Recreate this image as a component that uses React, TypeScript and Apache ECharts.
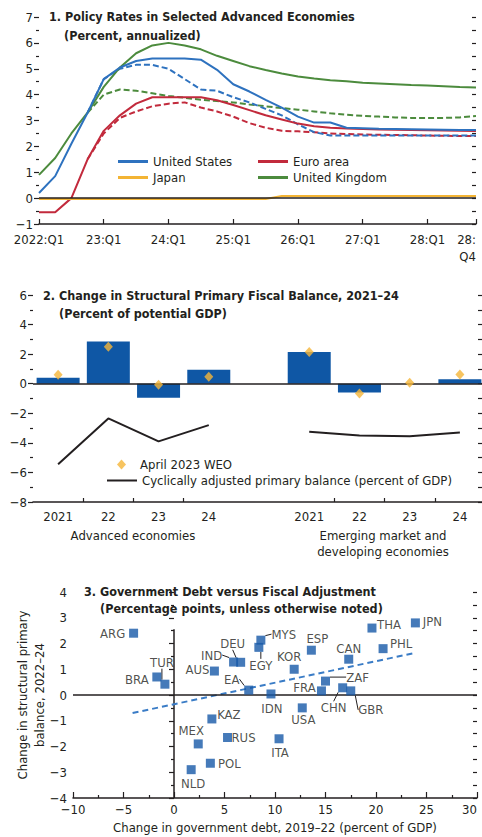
import React, { useEffect, useRef } from "react";
import * as echarts from "echarts";

// ---------- Panel 1: policy rates ----------
const quarters = [
  "2022:Q1", "22:Q2", "22:Q3", "22:Q4",
  "23:Q1", "23:Q2", "23:Q3", "23:Q4",
  "24:Q1", "24:Q2", "24:Q3", "24:Q4",
  "25:Q1", "25:Q2", "25:Q3", "25:Q4",
  "26:Q1", "26:Q2", "26:Q3", "26:Q4",
  "27:Q1", "27:Q2", "27:Q3", "27:Q4",
  "28:Q1", "28:Q2", "28:Q3", "28:Q4",
];
const usRate = [0.2, 0.85, 2.1, 3.3, 4.6, 5.05, 5.3, 5.4, 5.4, 5.4, 5.35, 4.96, 4.4, 4.12, 3.8, 3.5, 3.15, 2.92, 2.92, 2.72, 2.7, 2.68, 2.67, 2.66, 2.65, 2.64, 2.63, 2.63];
const usRateDashed = [null, null, null, 3.3, 4.6, 5.0, 5.15, 5.15, 5.0, 4.6, 4.2, 4.15, 3.9, 3.7, 3.45, 3.2, 2.85, 2.55, 2.42, 2.42, 2.42, 2.42, 2.42, 2.42, 2.42, 2.42, 2.42, 2.42];
const euroRate = [-0.55, -0.55, 0.0, 1.5, 2.6, 3.2, 3.65, 3.9, 3.9, 3.9, 3.9, 3.78, 3.6, 3.4, 3.2, 3.04, 2.88, 2.78, 2.72, 2.69, 2.67, 2.65, 2.64, 2.63, 2.62, 2.61, 2.6, 2.59];
const euroRateDashed = [null, null, null, 1.5, 2.5, 3.1, 3.35, 3.55, 3.65, 3.7, 3.5, 3.35, 3.15, 2.9, 2.72, 2.6, 2.58, 2.55, 2.5, 2.48, 2.46, 2.45, 2.44, 2.43, 2.42, 2.41, 2.4, 2.4];
const japanRate = [-0.03, -0.03, -0.03, -0.03, -0.03, -0.03, -0.03, -0.03, -0.03, -0.03, -0.03, -0.03, -0.03, -0.03, -0.03, 0.08, 0.08, 0.08, 0.08, 0.08, 0.08, 0.08, 0.08, 0.08, 0.08, 0.08, 0.08, 0.08];
const ukRate = [0.9, 1.55, 2.5, 3.3, 4.3, 5.05, 5.6, 5.9, 6.0, 5.9, 5.75, 5.5, 5.3, 5.1, 4.95, 4.82, 4.7, 4.62, 4.56, 4.52, 4.46, 4.43, 4.4, 4.37, 4.35, 4.32, 4.29, 4.28];
const ukRateDashed = [null, null, null, 3.3, 4.0, 4.2, 4.15, 4.05, 3.95, 3.88, 3.8, 3.75, 3.7, 3.62, 3.55, 3.48, 3.42, 3.35, 3.28, 3.22, 3.18, 3.15, 3.12, 3.1, 3.1, 3.1, 3.12, 3.17];

// ---------- Panel 2: structural primary balance ----------
const fiscalCategories = ["2021", "22", "23", "24", "", "2021", "22", "23", "24"];
const structuralChange = [0.4, 2.85, -0.95, 0.95, null, 2.15, -0.6, 0, 0.3];
const april2023WEO = [0.6, 2.5, -0.07, 0.47, null, 2.15, -0.67, 0.07, 0.63];
const cyclicallyAdjusted = [-5.45, -2.35, -3.9, -2.8, null, -3.25, -3.5, -3.55, -3.3];

// ---------- Panel 3: debt vs adjustment ----------
const countries = ["ARG", "TUR", "BRA", "AUS", "IND", "DEU", "EGY", "MYS", "EA", "KOR", "ESP", "IDN", "USA", "FRA", "CAN", "ZAF", "CHN", "GBR", "THA", "JPN", "PHL", "KAZ", "MEX", "RUS", "ITA", "POL", "NLD"];
const debtChange = [-4.0, -0.9, -1.7, 4.0, 5.9, 6.6, 8.4, 8.6, 7.4, 11.9, 13.6, 9.6, 12.7, 14.6, 17.3, 15.0, 16.7, 17.5, 19.6, 23.9, 20.7, 3.75, 2.4, 5.3, 10.4, 3.6, 1.7];
const balanceChange = [2.4, 0.42, 0.7, 0.93, 1.28, 1.27, 1.85, 2.13, 0.19, 1.0, 1.74, 0.04, -0.5, 0.16, 1.39, 0.54, 0.28, 0.16, 2.6, 2.8, 1.8, -0.93, -1.9, -1.65, -1.7, -2.65, -2.9];
const trendLine = [[-4.1, -0.7], [23.8, 1.63]];
const zeroDebtLine = [[0, -4], [0, 2.55]];

// label placement (layout only)
const labelOffsets: Record<string, [number, number]> = {
  ARG: [-21, 0], TUR: [-3, -22], BRA: [-20, 3], AUS: [-17, -2], IND: [-22, -7],
  DEU: [-8, -19], EGY: [2, 18], MYS: [23, -6], EA: [-17, -11], KOR: [-5, -13],
  ESP: [6, -12], IDN: [1, 15], USA: [1, 12], FRA: [-17, -3], CAN: [0, -11],
  ZAF: [32, -4], CHN: [-9, 20], GBR: [20, 19], THA: [17, -4], JPN: [17, -1],
  PHL: [18, -5], KAZ: [17, -4], MEX: [-7, -13], RUS: [16, 0], ITA: [1, 14],
  POL: [19, 0], NLD: [2, 14],
};
const leaderLabels = ["TUR", "IND", "DEU", "EGY", "MYS", "EA", "ZAF", "CHN", "GBR"];

const INK = "#231f20";
const FONT = "'Liberation Sans Narrow', 'Arial Narrow', 'DejaVu Sans Condensed', 'Roboto Condensed', sans-serif";
const FS = 13;
const US_BLUE = "#2e72bf";
const EURO_RED = "#c22a3c";
const JAPAN_YELLOW = "#f3b434";
const UK_GREEN = "#4c8b3d";
const BAR_BLUE = "#0f57a5";
const DIAMOND = "#f5b538";
const SCATTER_BLUE = "#1659a8";
const TREND_BLUE = "#3a7cc6";

const minus = (v: number) => (v < 0 ? "\u2212" + Math.abs(v) : String(v));

const G1 = { left: 39, top: 17, width: 437, height: 207 };
const G2 = { left: 33, top: 295, width: 452, height: 207 };
const G3 = { left: 73, top: 592, width: 404, height: 206 };

function leftAxis(gridIndex: number, min: number, max: number, interval: number, extra: any = {}) {
  return {
    type: "value", gridIndex, min, max, interval,
    axisLine: { show: false },
    splitLine: { show: false },
    axisTick: { show: true, inside: false, length: 5, lineStyle: { color: INK, width: 1.2 } },
    minorTick: { show: true, splitNumber: 2, length: 3, lineStyle: { color: INK, width: 1.2 } },
    axisLabel: { formatter: minus, color: INK, fontSize: FS, margin: 6, fontFamily: FONT },
    ...extra,
  };
}
function rightAxis(gridIndex: number, min: number, max: number, interval: number, len = 4) {
  return {
    type: "value", gridIndex, position: "right", min, max, interval,
    axisLine: { show: false },
    splitLine: { show: false },
    axisLabel: { show: false },
    axisTick: { show: true, inside: true, length: len, lineStyle: { color: INK, width: 1.2 } },
    minorTick: { show: true, splitNumber: 2, length: len, lineStyle: { color: INK, width: 1.2 } },
  };
}

function lineSeries(name: string, data: any[], color: string, dashed = false, extra: any = {}) {
  return {
    type: "line", name, data, xAxisIndex: 0, yAxisIndex: 0,
    color, itemStyle: { color },
    symbol: "none", showSymbol: false, connectNulls: false,
    lineStyle: { color, width: 2, type: dashed ? [6, 3] : "solid" },
    z: dashed ? 3 : 4,
    ...extra,
  };
}

const legendBase = {
  padding: 0, selectedMode: false, icon: "rect", itemWidth: 30, itemHeight: 3,
  textStyle: { color: INK, fontSize: FS, fontFamily: FONT },
};

const titleStyle = { color: INK, fontSize: 12.5, fontWeight: "bold", fontFamily: FONT, lineHeight: 17 };

const option: any = {
  animation: false,
  backgroundColor: "#ffffff",
  textStyle: { fontFamily: FONT, color: INK },
  title: [
    { text: "1. Policy Rates in Selected Advanced Economies", left: 49, top: 8, padding: 0, textStyle: titleStyle },
    { text: "(Percent, annualized)", left: 64, top: 27, padding: 0, textStyle: titleStyle },
    { text: "2. Change in Structural Primary Fiscal Balance, 2021\u201324", left: 43, top: 287, padding: 0, textStyle: titleStyle },
    { text: "(Percent of potential GDP)", left: 59, top: 305, padding: 0, textStyle: titleStyle },
    { text: "3. Government Debt versus Fiscal Adjustment", left: 84, top: 583, padding: 0, textStyle: titleStyle },
    { text: "(Percentage points, unless otherwise noted)", left: 100, top: 600, padding: 0, textStyle: titleStyle },
  ],
  legend: [
    { ...legendBase, data: ["United States"], left: 118, top: 155 },
    { ...legendBase, data: ["Euro area"], left: 258, top: 155 },
    { ...legendBase, data: ["Japan"], left: 118, top: 171 },
    { ...legendBase, data: ["United Kingdom"], left: 258, top: 171 },
    {
      ...legendBase, data: [{ name: "April 2023 WEO", icon: "diamond" }], left: 117, top: 458,
      itemWidth: 9, itemHeight: 10,
      textStyle: { ...legendBase.textStyle, padding: [0, 0, 0, 9] },
    },
    { ...legendBase, data: ["Cyclically adjusted primary balance (percent of GDP)"], left: 107, top: 474, itemHeight: 2 },
  ],
  grid: [
    { ...G1, containLabel: false, outerBoundsMode: "none" },
    { ...G2, containLabel: false, outerBoundsMode: "none" },
    { ...G3, containLabel: false, outerBoundsMode: "none" },
  ],
  xAxis: [
    {
      type: "category", gridIndex: 0, data: quarters, boundaryGap: false,
      axisLine: { show: true, onZero: false, lineStyle: { color: INK, width: 1.5 } },
      axisTick: { show: true, inside: true, length: 5, interval: (i: number) => i % 4 === 0 || i === quarters.length - 1, lineStyle: { color: INK, width: 1.2 } },
      axisLabel: {
        interval: 0, color: INK, fontSize: FS, margin: 7, lineHeight: 17, fontFamily: FONT,
        alignMaxLabel: "right",
        formatter: (v: string, i: number) => (i % 4 === 0 ? v : i === quarters.length - 1 ? v.replace(":", ":\n") : ""),
      },
      splitLine: { show: false },
    },
    {
      type: "category", gridIndex: 1, data: fiscalCategories, boundaryGap: true,
      axisLine: { show: true, onZero: false, lineStyle: { color: INK, width: 1.5 } },
      axisTick: { show: true, inside: true, length: 4, interval: (i: number) => [1, 2, 3, 6, 7, 8].includes(i), lineStyle: { color: INK, width: 1.2 } },
      axisLabel: { interval: 0, color: INK, fontSize: FS, margin: 8, fontFamily: FONT },
      splitLine: { show: false },
    },
    {
      type: "value", gridIndex: 2, min: -10, max: 30, interval: 5,
      axisLine: { show: true, onZero: false, lineStyle: { color: INK, width: 1.5 } },
      axisTick: { show: true, inside: true, length: 6, lineStyle: { color: INK, width: 1.2 } },
      minorTick: { show: true, splitNumber: 2, length: 3, lineStyle: { color: INK, width: 1.2 } },
      axisLabel: { formatter: minus, color: INK, fontSize: FS, margin: 5, fontFamily: FONT, alignMaxLabel: "right" },
      splitLine: { show: false },
      name: "Change in government debt, 2019\u201322 (percent of GDP)",
      nameLocation: "middle", nameGap: 23, nameMoveOverlap: false,
      nameTextStyle: { color: INK, fontSize: FS, fontFamily: FONT },
    },
  ],
  yAxis: [
    leftAxis(0, -1, 7, 1),
    rightAxis(0, -1, 7, 1),
    leftAxis(1, -8, 6, 2),
    rightAxis(1, -8, 6, 2, 7),
    leftAxis(2, -4, 4, 1, {
      name: "Change in structural primary\nbalance, 2022\u201324",
      nameLocation: "middle", nameRotate: 90, nameGap: 25, nameMoveOverlap: false,
      nameTextStyle: { color: INK, fontSize: FS, fontFamily: FONT, lineHeight: 17 },
    }),
    rightAxis(2, -4, 4, 1),
  ],
  graphic: [
    {
      type: "text",
      style: { text: "Advanced economies", x: G2.left + 100, y: 535, textAlign: "center", textVerticalAlign: "middle", fill: INK, fontSize: FS, fontFamily: FONT },
    },
    {
      type: "text",
      style: { text: "Emerging market and\ndeveloping economies", x: G2.left + 350, y: 543, textAlign: "center", textVerticalAlign: "middle", fill: INK, fontSize: FS, fontFamily: FONT, lineHeight: 16 },
    },
  ],
  series: [
    lineSeries("United Kingdom (dashed)", ukRateDashed, UK_GREEN, true),
    lineSeries("Euro area (dashed)", euroRateDashed, EURO_RED, true),
    lineSeries("United States (dashed)", usRateDashed, US_BLUE, true),
    lineSeries("United Kingdom", ukRate, UK_GREEN),
    lineSeries("Euro area", euroRate, EURO_RED),
    lineSeries("United States", usRate, US_BLUE),
    lineSeries("Japan", japanRate, JAPAN_YELLOW, false, {
      markLine: {
        silent: true, symbol: ["none", "none"], label: { show: false },
        lineStyle: { color: INK, width: 1.5, type: "solid" },
        data: [{ yAxis: 0 }],
      },
    }),
    {
      type: "bar", name: "Change in structural primary fiscal balance", xAxisIndex: 1, yAxisIndex: 2,
      data: structuralChange, barWidth: 43, color: BAR_BLUE, itemStyle: { color: BAR_BLUE },
      markLine: {
        silent: true, symbol: ["none", "none"], label: { show: false },
        lineStyle: { color: INK, width: 1.5, type: "solid" },
        data: [{ yAxis: 0 }],
      },
    },
    {
      type: "line", name: "Cyclically adjusted primary balance (percent of GDP)", xAxisIndex: 1, yAxisIndex: 2,
      data: cyclicallyAdjusted, symbol: "none", showSymbol: false, connectNulls: false,
      color: INK, itemStyle: { color: INK }, lineStyle: { color: INK, width: 2 },
    },
    {
      type: "scatter", name: "April 2023 WEO", xAxisIndex: 1, yAxisIndex: 2,
      data: april2023WEO, symbol: "diamond", symbolSize: [9, 10],
      color: DIAMOND, itemStyle: { color: DIAMOND }, z: 5,
    },
    {
      type: "line", name: "Zero debt change", xAxisIndex: 2, yAxisIndex: 4, data: zeroDebtLine,
      symbol: "none", showSymbol: false, color: INK, silent: true,
      lineStyle: { color: INK, width: 1.5 },
    },
    {
      type: "line", name: "Trend", xAxisIndex: 2, yAxisIndex: 4, data: trendLine,
      symbol: "none", showSymbol: false, color: TREND_BLUE,
      lineStyle: { color: TREND_BLUE, width: 2, type: [6, 4] },
      markLine: {
        silent: true, symbol: ["none", "none"], label: { show: false },
        lineStyle: { color: INK, width: 1.5, type: "solid" },
        data: [{ yAxis: 0 }],
      },
    },
    {
      type: "scatter", name: "Countries", xAxisIndex: 2, yAxisIndex: 4,
      symbol: "rect", symbolSize: 9, color: SCATTER_BLUE, itemStyle: { color: SCATTER_BLUE }, z: 6,
      data: countries.map((c, i) => ({
        name: c,
        value: [debtChange[i], balanceChange[i]],
        labelLine: { show: leaderLabels.includes(c) },
      })),
      label: { show: true, position: "inside", formatter: "{b}", color: INK, fontSize: FS, fontFamily: FONT },
      labelLine: { show: false, lineStyle: { color: INK, width: 1 } },
      labelLayout: (p: any) => {
        const o = labelOffsets[countries[p.dataIndex]] || [0, 0];
        return { dx: o[0], dy: o[1], hideOverlap: false };
      },
    },
  ],
};

export default function App() {
  const ref = useRef<HTMLDivElement>(null);
  useEffect(() => {
    if (!ref.current) return;
    const chart = echarts.init(ref.current, null, { renderer: "svg" });
    chart.setOption(option);
    return () => chart.dispose();
  }, []);
  return (
    <div
      ref={ref}
      style={{ position: "absolute", left: 0, top: 0, width: 482, height: 837, background: "#ffffff" }}
    />
  );
}
